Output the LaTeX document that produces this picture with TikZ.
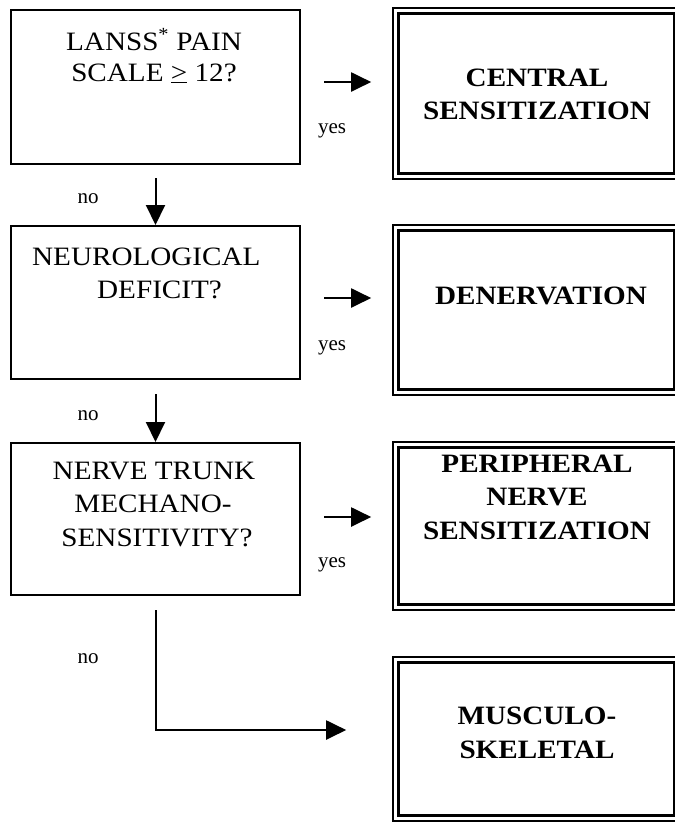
\documentclass[tikz,border=0pt]{standalone}
\usepackage{fontspec}
\setmainfont{Liberation Serif}
\newfontfamily\boxfont{Liberation Serif}[FakeStretch=1.1]
\usetikzlibrary{arrows.meta}
\begin{document}
\begin{tikzpicture}[x=1pt,y=-1pt,
  qbox/.style={draw, line width=2pt, inner sep=0pt, minimum width=289pt},
  rbox/.style={draw, line width=1.6pt, inner sep=0pt, minimum width=287pt},
  qtxt/.style={anchor=base, inner sep=0pt, font=\boxfont\fontsize{26.5}{33}\selectfont},
  rtxt/.style={anchor=base, inner sep=0pt, font=\boxfont\fontsize{26.5}{33}\selectfont\bfseries},
  lbl/.style={anchor=base, inner sep=0pt, font=\fontsize{21}{25}\selectfont},
  arr/.style={line width=2pt, -{Triangle[length=20pt,width=19pt]}}
]
\useasboundingbox (0,0) rectangle (675,823);
\clip (0,0) rectangle (675,823);
% question boxes
\node[qbox, minimum height=154pt] (b1) at (155.5,87) {};
\node[qbox, minimum height=153pt] (b2) at (155.5,302.5) {};
\node[qbox, minimum height=152pt] (b3) at (155.5,519) {};
% result boxes (outer thin line)
\node[rbox, minimum height=171pt] (r1) at (536.5,93.5) {};
\node[rbox, minimum height=170pt] (r2) at (536.5,310) {};
\node[rbox, minimum height=168pt] (r3) at (536.5,526) {};
\node[rbox, minimum height=164pt] (r4) at (536.5,739) {};
% inner thick lines
\foreach \r in {r1,r2,r3,r4}{
  \draw[line width=2.8pt] ([shift={(6.5,6.5)}]\r.north west) rectangle ([shift={(-6.5,-6.5)}]\r.south east);
}
% question texts
\node[qtxt] (t1a) at (154,50) {LANSS\textsuperscript{*} PAIN};
\node[qtxt] (t1b) at (154,81) {SCALE \underline{>} 12?};
\node[qtxt, anchor=base west] (t2a) at (32,265) {NEUROLOGICAL};
\node[qtxt, anchor=base west] (t2b) at (97,298) {DEFICIT?};
\node[qtxt] (t3a) at (154,479) {NERVE TRUNK};
\node[qtxt] (t3b) at (153,512) {MECHANO-};
\node[qtxt] (t3c) at (157,546) {SENSITIVITY?};
% result texts
\node[rtxt] (s1a) at (537,86) {CENTRAL};
\node[rtxt] (s1b) at (537,119) {SENSITIZATION};
\node[rtxt] (s2a) at (541,304) {DENERVATION};
\node[rtxt] (s3a) at (537,472) {PERIPHERAL};
\node[rtxt] (s3b) at (537,505) {NERVE};
\node[rtxt] (s3c) at (537,539) {SENSITIZATION};
\node[rtxt] (s4a) at (537,724) {MUSCULO-};
\node[rtxt] (s4b) at (537,758) {SKELETAL};
% yes arrows
\draw[arr, shorten <=23pt, shorten >=21pt] (b1.east |- 0,82) -- (r1.west |- 0,82);
\draw[arr, shorten <=23pt, shorten >=21pt] (b2.east |- 0,298) -- (r2.west |- 0,298);
\draw[arr, shorten <=23pt, shorten >=21pt] (b3.east |- 0,517) -- (r3.west |- 0,517);
\node[lbl] (y1) at (332,133) {yes};
\node[lbl] (y2) at (332,350) {yes};
\node[lbl] (y3) at (332,567) {yes};
% no arrows
\draw[arr, shorten <=13pt] (b1.south) -- (b2.north);
\draw[arr, shorten <=14pt] (b2.south) -- (b3.north);
\draw[arr, shorten <=14pt, shorten >=46pt] (b3.south) |- (r4.west |- 0,730);
\node[lbl] (n1) at (88,203) {no};
\node[lbl] (n2) at (88,420) {no};
\node[lbl] (n3) at (88,663) {no};
\end{tikzpicture}
\end{document}
